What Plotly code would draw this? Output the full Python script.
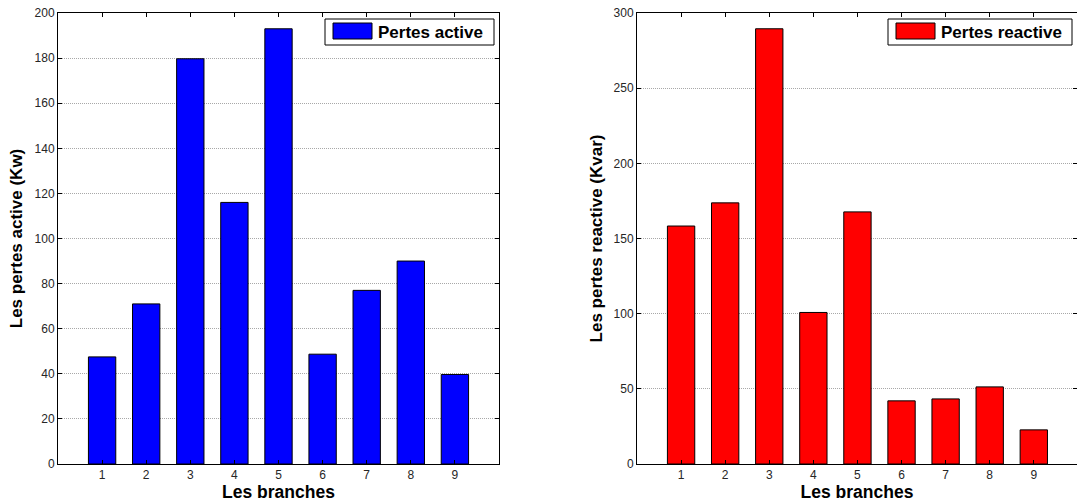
import plotly.graph_objects as go

branches = [1, 2, 3, 4, 5, 6, 7, 8, 9]
pertes_active = [47.5, 71, 179.7, 116, 193, 48.7, 77, 90, 39.7]
pertes_reactive = [158.3, 173.7, 289.5, 100.8, 167.7, 42, 43.3, 51.3, 22.7]
legend_labels = ["Pertes active", "Pertes reactive"]
colors = ["#0000ff", "#ff0000"]

FONT = "Liberation Sans, Arial, sans-serif"
W, H = 1077, 504

fig = go.Figure()
fig.add_trace(go.Bar(x=branches, y=pertes_active, name=legend_labels[0],
                     marker=dict(color=colors[0], line=dict(color="black", width=1)),
                     width=0.62, xaxis="x", yaxis="y", showlegend=False))
fig.add_trace(go.Bar(x=branches, y=pertes_reactive, name=legend_labels[1],
                     marker=dict(color=colors[1], line=dict(color="black", width=1)),
                     width=0.62, xaxis="x2", yaxis="y2", showlegend=False))

axis_common = dict(showline=True, linecolor="black", linewidth=1, mirror="ticks",
                   ticks="inside", ticklen=4, tickcolor="black",
                   tickfont=dict(family=FONT, size=12, color="#262626"),
                   zeroline=False, automargin=False)

xax = dict(axis_common, tickvals=branches, showgrid=False,
           title=dict(text="<b>Les branches</b>", font=dict(family=FONT, size=17.5, color="black"), standoff=2))
ygrid = dict(showgrid=True, gridcolor="#a8a8a8", griddash="1px,1px", gridwidth=1)
fig.update_layout(
    xaxis=dict(xax, range=[0, 10], domain=[58 / W, 499 / W], anchor="y"),
    xaxis2=dict(xax, range=[0, 9.98], domain=[637 / W, 1.0], anchor="y2"),
    yaxis=dict(axis_common, **ygrid, range=[0, 200], dtick=20, domain=[1 - 464 / H, 1 - 13 / H], anchor="x",
               title=dict(text="<b>Les pertes active (Kw)</b>", font=dict(family=FONT, size=17, color="black"), standoff=7)),
    yaxis2=dict(axis_common, **ygrid, range=[0, 300], dtick=50, domain=[1 - 464 / H, 1 - 13 / H], anchor="x2",
                title=dict(text="<b>Les pertes reactive (Kvar)</b>", font=dict(family=FONT, size=17, color="black"), standoff=6)),
    width=W, height=H,
    margin=dict(l=0, r=0, t=0, b=0),
    paper_bgcolor="white", plot_bgcolor="white",
    showlegend=False,
)

# Manual MATLAB-style legends (box, wide swatch, bold label)
legend_boxes = [
    dict(box=(325, 19, 494, 45), sw=(333, 23, 372, 39), tx=376),
    dict(box=(888, 19, 1072, 45), sw=(896, 23, 935, 39), tx=939),
]
for lb, label, col in zip(legend_boxes, legend_labels, colors):
    x0, y0, x1, y1 = lb["box"]
    fig.add_shape(type="rect", xref="paper", yref="paper",
                  x0=x0 / W, x1=x1 / W, y0=1 - y1 / H, y1=1 - y0 / H,
                  line=dict(color="black", width=1), fillcolor="white", layer="above")
    sx0, sy0, sx1, sy1 = lb["sw"]
    fig.add_shape(type="rect", xref="paper", yref="paper",
                  x0=sx0 / W, x1=sx1 / W, y0=1 - sy1 / H, y1=1 - sy0 / H,
                  line=dict(color="black", width=1), fillcolor=col, layer="above")
    fig.add_annotation(xref="paper", yref="paper", x=lb["tx"] / W, y=1 - ((y0 + y1) / 2) / H,
                       xanchor="left", yanchor="middle", showarrow=False,
                       text="<b>" + label + "</b>",
                       font=dict(family=FONT, size=17, color="black"))

fig.write_html("out.html", config={"displayModeBar": False},
               post_script="document.body.style.margin='0px';document.body.style.overflow='hidden';")
